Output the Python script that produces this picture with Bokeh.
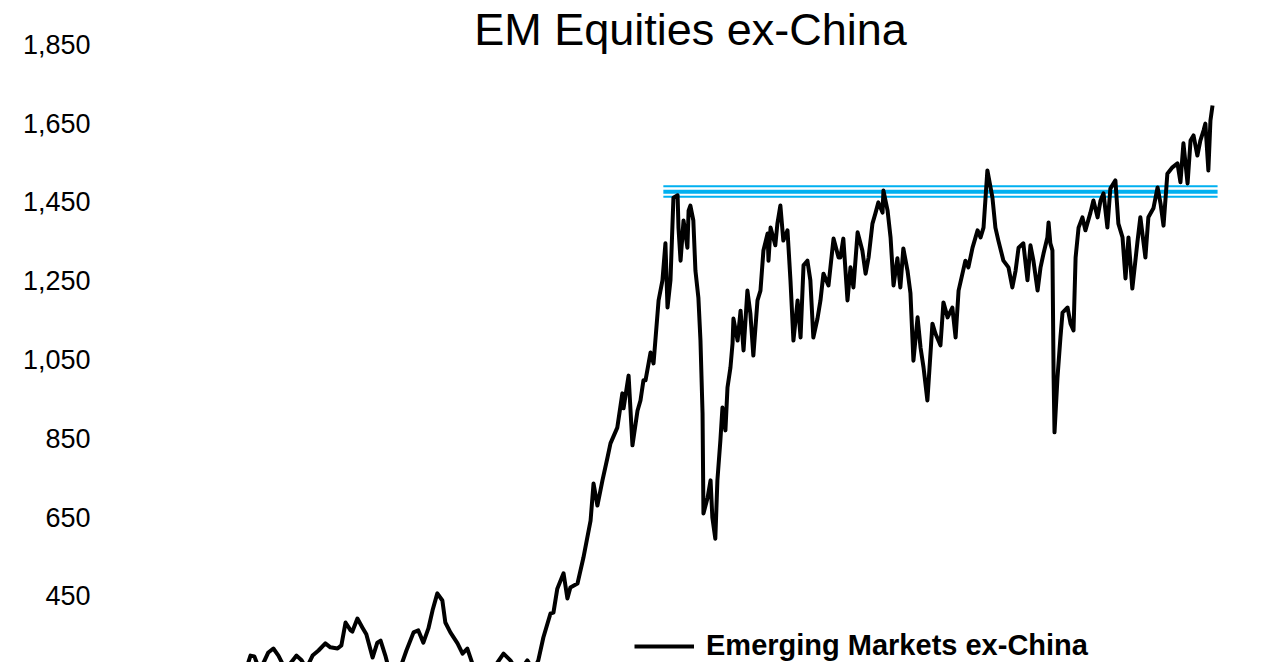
from bokeh.plotting import figure
from bokeh.models import (Range1d, FixedTicker, NumeralTickFormatter, Label,
                          Legend, LegendItem, ColumnDataSource)
from bokeh.embed import file_html
from bokeh.resources import INLINE

TITLE = "EM Equities ex-China"
SERIES_NAME = "Emerging Markets ex-China"
Y_TICKS = [250, 450, 650, 850, 1050, 1250, 1450, 1650, 1850]

# time (decimal years) and index level
years = [
    1992.99, 1993.13, 1993.26, 1993.40, 1993.57, 1993.73, 1993.90, 1994.07, 1994.27, 1994.47,
    1994.68, 1994.85, 1995.01, 1995.22, 1995.42, 1995.65, 1995.82, 1996.06, 1996.19, 1996.33,
    1996.50, 1996.56, 1996.73, 1996.90, 1997.03, 1997.24, 1997.40, 1997.51, 1997.67, 1997.74,
    1997.91, 1998.08, 1998.18, 1998.38, 1998.62, 1998.78, 1998.95, 1999.12, 1999.26, 1999.42,
    1999.59, 1999.69, 1999.86, 2000.10, 2000.27, 2000.43, 2000.60, 2000.80, 2000.97, 2001.21,
    2001.44, 2001.65, 2001.88, 2002.05, 2002.22, 2002.45, 2002.66, 2002.82, 2002.99, 2003.23,
    2003.33, 2003.46, 2003.67, 2003.80, 2003.90, 2004.14, 2004.34, 2004.58, 2004.68, 2004.81,
    2004.98, 2005.15, 2005.25, 2005.48, 2005.65, 2005.69, 2005.86, 2005.99, 2006.16, 2006.26,
    2006.36, 2006.43, 2006.60, 2006.70, 2006.77, 2006.87, 2007.00, 2007.10, 2007.17, 2007.27,
    2007.37, 2007.51, 2007.54, 2007.61, 2007.71, 2007.84, 2007.88, 2007.94, 2008.04, 2008.11,
    2008.21, 2008.28, 2008.35, 2008.38, 2008.52, 2008.62, 2008.68, 2008.78, 2008.85, 2008.95,
    2009.02, 2009.12, 2009.19, 2009.29, 2009.36, 2009.39, 2009.53, 2009.63, 2009.73, 2009.86,
    2009.96, 2010.06, 2010.20, 2010.30, 2010.40, 2010.54, 2010.57, 2010.64, 2010.80, 2010.87,
    2010.97, 2011.07, 2011.21, 2011.31, 2011.41, 2011.55, 2011.65, 2011.75, 2011.88, 2011.98,
    2012.08, 2012.22, 2012.32, 2012.42, 2012.59, 2012.76, 2012.93, 2012.99, 2013.09, 2013.23,
    2013.33, 2013.43, 2013.57, 2013.73, 2013.84, 2013.94, 2014.07, 2014.17, 2014.27, 2014.41,
    2014.44, 2014.58, 2014.68, 2014.78, 2014.91, 2015.01, 2015.11, 2015.25, 2015.35, 2015.45,
    2015.59, 2015.69, 2015.79, 2015.92, 2016.09, 2016.19, 2016.36, 2016.46, 2016.60, 2016.76,
    2016.87, 2016.97, 2017.20, 2017.30, 2017.44, 2017.61, 2017.71, 2017.81, 2017.94, 2018.11,
    2018.21, 2018.31, 2018.48, 2018.65, 2018.78, 2018.89, 2018.99, 2019.15, 2019.29, 2019.39,
    2019.49, 2019.63, 2019.73, 2019.83, 2019.96, 2020.00, 2020.06, 2020.13, 2020.17, 2020.20,
    2020.30, 2020.40, 2020.47, 2020.64, 2020.74, 2020.84, 2020.91, 2021.01, 2021.14, 2021.24,
    2021.41, 2021.51, 2021.65, 2021.75, 2021.85, 2021.98, 2022.08, 2022.25, 2022.35, 2022.49,
    2022.59, 2022.69, 2022.82, 2022.99, 2023.09, 2023.26, 2023.36, 2023.53, 2023.67, 2023.77,
    2023.87, 2024.00, 2024.17, 2024.34, 2024.44, 2024.54, 2024.68, 2024.78, 2024.88, 2025.01,
    2025.11, 2025.22, 2025.28, 2025.38, 2025.45, 2025.52,
]
em_ex_china = [
    265, 298, 296, 268, 280, 306, 316, 298, 268, 278,
    298, 286, 265, 298, 311, 329, 319, 316, 324, 382,
    362, 359, 392, 369, 352, 293, 331, 336, 298, 278,
    260, 255, 268, 311, 357, 362, 331, 367, 413, 456,
    438, 382, 357, 329, 303, 316, 278, 265, 255, 260,
    280, 303, 286, 265, 260, 286, 260, 286, 344, 405,
    407, 468, 507, 443, 471, 481, 547, 641, 735, 679,
    743, 801, 837, 877, 964, 926, 1009, 832, 920, 946,
    997, 997, 1068, 1040, 1106, 1200, 1251, 1345, 1182, 1251,
    1461, 1467, 1385, 1301, 1403, 1334, 1428, 1441, 1403, 1276,
    1207, 1098, 913, 659, 699, 743, 649, 595, 743, 844,
    928, 870, 979, 1030, 1091, 1154, 1098, 1174, 1073, 1225,
    1167, 1060, 1200, 1225, 1327, 1370, 1301, 1385, 1340, 1395,
    1441, 1352, 1378, 1251, 1098, 1200, 1106, 1289, 1301, 1251,
    1106, 1154, 1200, 1268, 1238, 1357, 1309, 1309, 1357, 1200,
    1284, 1233, 1373, 1327, 1268, 1309, 1395, 1421, 1449, 1423,
    1479, 1428, 1360, 1238, 1307, 1233, 1332, 1276, 1218, 1047,
    1157, 1080, 1030, 946, 1141, 1116, 1086, 1195, 1157, 1182,
    1106, 1225, 1301, 1284, 1334, 1378, 1360, 1385, 1530, 1461,
    1385, 1352, 1301, 1284, 1233, 1276, 1334, 1345, 1251, 1340,
    1301, 1225, 1284, 1319, 1360, 1398, 1345, 1327, 1004, 865,
    1004, 1106, 1169, 1182, 1141, 1124, 1309, 1385, 1411, 1378,
    1423, 1454, 1411, 1454, 1472, 1385, 1484, 1505, 1395, 1360,
    1256, 1360, 1230, 1347, 1411, 1309, 1411, 1434, 1487, 1446,
    1390, 1522, 1538, 1548, 1500, 1599, 1497, 1606, 1619, 1568,
    1606, 1632, 1649, 1530, 1657, 1695,
]

# resistance band (three horizontal lines)
band_start = [2007.03, 2007.03, 2007.03]
band_end = [2025.69, 2025.69, 2025.69]
band_level = [1490, 1476, 1463]
band_width = [2, 4, 2]

BLUE = "#00B0F0"
FONT = "Liberation Sans"

p = figure(width=1264, height=662, output_backend="svg", toolbar_location=None,
           x_range=Range1d(1988.08, 2027.27), y_range=Range1d(280.5, 1961.7),
           x_axis_location=None, min_border_left=100, min_border_right=0,
           min_border_top=0, min_border_bottom=0)
p.xgrid.visible = False
p.ygrid.visible = False
p.outline_line_color = None
p.background_fill_color = "white"
p.border_fill_color = "white"

ax = p.yaxis[0]
ax.ticker = FixedTicker(ticks=Y_TICKS)
ax.formatter = NumeralTickFormatter(format="0,0")
ax.axis_line_color = None
ax.major_tick_line_color = None
ax.minor_tick_line_color = None
ax.major_tick_out = 0
ax.major_tick_in = 0
ax.major_label_standoff = 10
ax.major_label_text_font = FONT
ax.major_label_text_font_size = "27px"
ax.major_label_text_color = "black"

band_src = ColumnDataSource(dict(x0=band_start, x1=band_end, y=band_level, w=band_width))
p.segment(x0="x0", y0="y", x1="x1", y1="y", line_width="w", line_color=BLUE, source=band_src)

r = p.line(years, em_ex_china, line_color="black", line_width=4, line_join="round")

title = Label(x=590, y=633, x_units="screen", y_units="screen", text=TITLE,
              text_font=FONT, text_font_size="45px", text_align="center",
              text_baseline="alphabetic", text_color="black")
p.add_layout(title)

legend = Legend(items=[LegendItem(label=SERIES_NAME, renderers=[r])], location=(534, 0),
                background_fill_alpha=0, border_line_color=None, padding=0, margin=0,
                glyph_width=60, glyph_height=20, label_standoff=12,
                label_text_font=FONT, label_text_font_style="bold",
                label_text_font_size="29px", label_text_color="black")
p.add_layout(legend)

open("out.html", "w").write(file_html(p, INLINE))
